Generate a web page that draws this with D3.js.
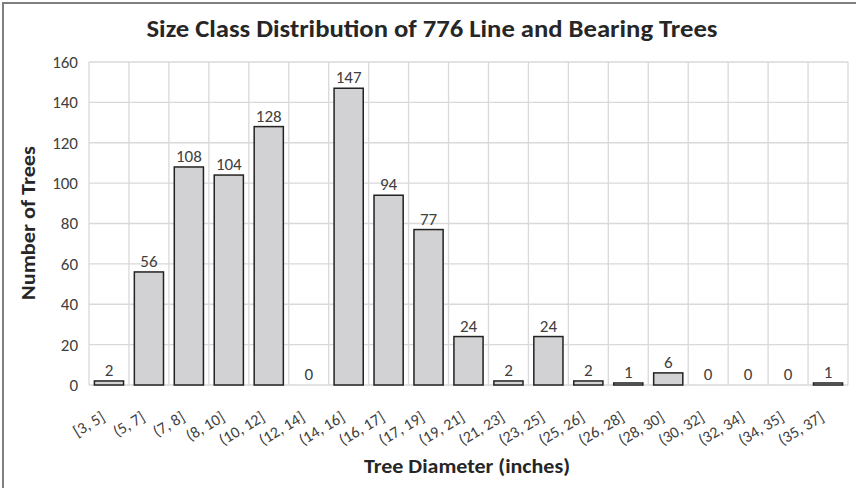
<!DOCTYPE html>
<html><head><meta charset="utf-8">
<script src="https://cdn.jsdelivr.net/npm/d3@7"></script>
<style>body{margin:0;background:#fff}svg{display:block}</style>
</head><body><div id="chart"></div>
<script>
const categories = ["[3, 5]","(5, 7]","(7, 8]","(8, 10]","(10, 12]","(12, 14]","(14, 16]","(16, 17]","(17, 19]","(19, 21]","(21, 23]","(23, 25]","(25, 26]","(26, 28]","(28, 30]","(30, 32]","(32, 34]","(34, 35]","(35, 37]"];
const counts = [2,56,108,104,128,0,147,94,77,24,2,24,2,1,6,0,0,0,1];
const yTicks = [0,20,40,60,80,100,120,140,160];
const title = "Size Class Distribution of 776 Line and Bearing Trees";
const xTitle = "Tree Diameter (inches)";
const yTitle = "Number of Trees";

const W = 856, H = 488;
const m = {left: 89, right: 8, top: 62, bottom: 103};
const font = "Calibri, Carlito, Lato, sans-serif";
const svg = d3.select("#chart").append("svg").attr("width", W).attr("height", H)
  .style("font-family", font);

// outer border
svg.append("path").attr("d", `M3,${H} V3 H${W}`).attr("fill","none").attr("stroke","#7f7f7f").attr("stroke-width",2);

const x = d3.scaleBand().domain(categories).range([m.left, W - m.right]).paddingInner(0.27).paddingOuter(0.135);
const y = d3.scaleLinear().domain([0,160]).range([H - m.bottom, m.top]);

const g = svg.append("g");
g.selectAll("line.h").data(yTicks).join("line")
  .attr("x1", m.left).attr("x2", W - m.right)
  .attr("y1", d => y(d)).attr("y2", d => y(d))
  .attr("stroke", "#d9d9d9").attr("stroke-width", 1.3);
const bounds = d3.range(categories.length + 1).map(i => m.left + i * (W - m.right - m.left) / categories.length);
g.selectAll("line.v").data(bounds).join("line")
  .attr("x1", d => d).attr("x2", d => d)
  .attr("y1", m.top).attr("y2", H - m.bottom)
  .attr("stroke", "#d9d9d9").attr("stroke-width", 1.3);

// y axis
const yAxis = d3.axisLeft(y).tickValues(yTicks).tickSize(0).tickPadding(11);
const ya = svg.append("g").attr("transform", `translate(${m.left},0)`).call(yAxis);
ya.select(".domain").remove();
ya.selectAll("text").attr("font-size", 17).attr("fill", "#404040").style("font-family", font);

// bars
const data = categories.map((c, i) => ({c, v: counts[i]}));
svg.selectAll("rect.bar").data(data).join("rect")
  .attr("x", d => x(d.c)).attr("width", x.bandwidth())
  .attr("y", d => y(d.v)).attr("height", d => y(0) - y(d.v))
  .attr("fill", "#d2d2d4").attr("stroke", "#222").attr("stroke-width", 1.5);

// bar labels
svg.selectAll("text.lbl").data(data).join("text")
  .attr("x", d => x(d.c) + x.bandwidth()/2).attr("y", d => y(d.v) - 5)
  .attr("text-anchor", "middle").attr("font-size", 17).attr("fill", "#404040")
  .text(d => d.v);

// x axis labels
const xAxis = d3.axisBottom(x).tickSize(0).tickPadding(0);
const xa = svg.append("g").attr("transform", `translate(0,${H - m.bottom})`).call(xAxis);
xa.select(".domain").remove();
xa.selectAll("text").attr("font-size", 16).attr("fill", "#404040").style("font-family", font)
  .attr("text-anchor", "end").attr("dy", 0).attr("y", 0)
  .attr("transform", "translate(-3,35) rotate(-31)");

// titles
svg.append("text").attr("x", 432).attr("y", 37).attr("text-anchor", "middle")
  .attr("font-size", 24).attr("font-weight", "bold").attr("fill", "#262626")
  .attr("textLength", 571).attr("lengthAdjust", "spacingAndGlyphs").text(title);
svg.append("text").attr("x", 467).attr("y", 473).attr("text-anchor", "middle")
  .attr("font-size", 21).attr("font-weight", "bold").attr("fill", "#262626")
  .attr("textLength", 206).attr("lengthAdjust", "spacingAndGlyphs").text(xTitle);
svg.append("text").attr("transform", "translate(35,223) rotate(-90)").attr("text-anchor", "middle")
  .attr("font-size", 21).attr("font-weight", "bold").attr("fill", "#262626")
  .attr("textLength", 154).attr("lengthAdjust", "spacingAndGlyphs").text(yTitle);
</script></body></html>
